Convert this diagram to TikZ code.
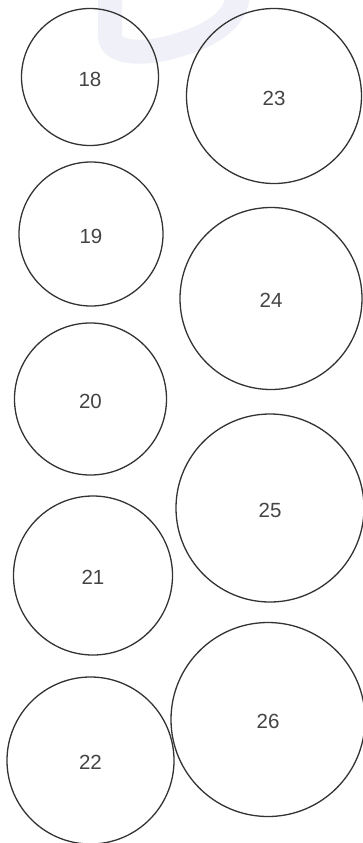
\documentclass[tikz,border=0pt]{standalone}
\usepackage{fontspec}
\setmainfont{Liberation Sans}
\definecolor{ringc}{HTML}{333333}
\definecolor{txtc}{HTML}{444444}
\definecolor{wmc}{HTML}{F0F0F8}
\begin{document}
\begin{tikzpicture}[x=1pt,y=-1pt,
  ring/.style={circle, draw=ringc, line width=1.3pt, inner sep=0pt},
  num/.style={text=txtc, font=\fontsize{20.5}{20.5}\selectfont, yshift=-2pt}]
\useasboundingbox[fill=white] (0,0) rectangle (363,843);
% faint watermark
\draw[wmc, line width=24pt] (110,-5) -- (110,36) .. controls (110,56) and (150,54) .. (175,46) .. controls (215,35) and (236,18) .. (238,-5);
\node[ring, minimum size=137pt, label={[num]center:18}] (c18) at (90,77) {};
\node[ring, minimum size=175pt, label={[num]center:23}] (c23) at (274,96) {};
\node[ring, minimum size=144pt, label={[num]center:19}] (c19) at (91,234) {};
\node[ring, minimum size=182pt, label={[num]center:24}] (c24) at (271,298.5) {};
\node[ring, minimum size=152pt, label={[num]center:20}] (c20) at (90.5,399) {};
\node[ring, minimum size=188pt, label={[num]center:25}] (c25) at (270,508) {};
\node[ring, minimum size=159pt, label={[num]center:21}] (c21) at (93,575.5) {};
\node[ring, minimum size=194pt, label={[num]center:26}] (c26) at (268,719.5) {};
\node[ring, minimum size=167pt, label={[num]center:22}] (c22) at (90.5,760.5) {};
\end{tikzpicture}
\end{document}
